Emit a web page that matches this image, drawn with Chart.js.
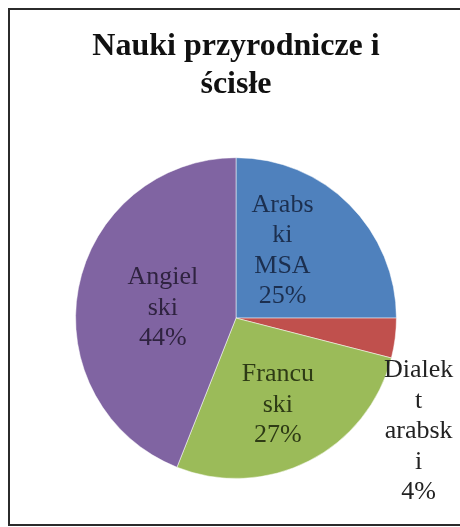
<!DOCTYPE html>
<html>
<head>
<meta charset="utf-8">
<script src="https://cdn.jsdelivr.net/npm/chart.js@4/dist/chart.umd.min.js"></script>
<style>
  html, body { margin: 0; padding: 0; background: #fff; }
  #frame {
    position: absolute; left: 8px; top: 8px;
    width: 470px; height: 518px;
    border: 2px solid #2b2b2b;
    box-sizing: border-box;
  }
  #wrap { position: absolute; left: 0; top: 0; width: 460px; height: 527px; }
</style>
</head>
<body>
<div id="frame"></div>
<div id="wrap"><canvas id="chart" width="460" height="527"></canvas></div>
<script>
// Share of teaching languages – natural and exact sciences
const titleLines = ['Nauki przyrodnicze i', 'ścisłe'];
const categories = ['Arabski MSA', 'Dialekt arabski', 'Francuski', 'Angielski'];
const shares = [25, 4, 27, 44];
const sliceColors = ['#4F81BD', '#C0504D', '#9BBB59', '#8064A2'];
const labelColors = ['#1c2f4f', '#222222', '#2e3b15', '#2f2340'];
// Labels broken the way they wrap inside their boxes
const labelLines = [
  ['Arabs', 'ki', 'MSA'],
  ['Dialek', 't', 'arabsk', 'i'],
  ['Francu', 'ski'],
  ['Angiel', 'ski']
];
// Label anchor per slice: angle (degrees clockwise from 12 o'clock) and distance in radii
const labelAnchors = [
  { a: 34.6, r: 0.51 },
  { a: 121.8, r: 1.34 },
  { a: 154.2, r: 0.60 },
  { a: 277.8, r: 0.46 }
];

const sliceLabels = {
  id: 'sliceLabels',
  afterDatasetsDraw(chart) {
    const ctx = chart.ctx;
    const meta = chart.getDatasetMeta(0);
    const total = shares.reduce((s, v) => s + v, 0);
    const lh = 30.5;
    meta.data.forEach((arc, i) => {
      const { x, y, outerRadius } = arc.getProps(['x', 'y', 'outerRadius'], true);
      const ang = labelAnchors[i].a * Math.PI / 180;
      const cx = x + Math.sin(ang) * outerRadius * labelAnchors[i].r;
      const cy = y - Math.cos(ang) * outerRadius * labelAnchors[i].r;
      const lines = labelLines[i].concat([Math.round(shares[i] / total * 100) + '%']);
      const top = cy - (lines.length - 1) * lh / 2;
      ctx.save();
      ctx.font = '26px "Liberation Serif", "Times New Roman", serif';
      ctx.textAlign = 'center';
      ctx.textBaseline = 'middle';
      ctx.fillStyle = labelColors[i];
      lines.forEach((t, k) => ctx.fillText(t, cx, top + k * lh));
      ctx.restore();
    });
  }
};

new Chart(document.getElementById('chart'), {
  type: 'pie',
  data: {
    labels: categories,
    datasets: [{
      data: shares,
      backgroundColor: sliceColors,
      borderColor: 'rgba(255,255,255,0.5)',
      borderWidth: 1,
      hoverOffset: 0,
      hoverBorderWidth: 1
    }]
  },
  options: {
    responsive: false,
    animation: false,
    events: [],
    layout: { padding: { top: 10, left: 75, right: 63, bottom: 48 } },
    plugins: {
      legend: { display: false },
      tooltip: { enabled: false },
      title: {
        display: true,
        text: titleLines,
        color: '#111',
        font: { family: '"Liberation Serif", "Times New Roman", serif', size: 32, weight: 'bold', lineHeight: 1.19 },
        padding: { top: 17.2, bottom: 53.8 }
      }
    }
  },
  plugins: [sliceLabels]
});
</script>
</body>
</html>
